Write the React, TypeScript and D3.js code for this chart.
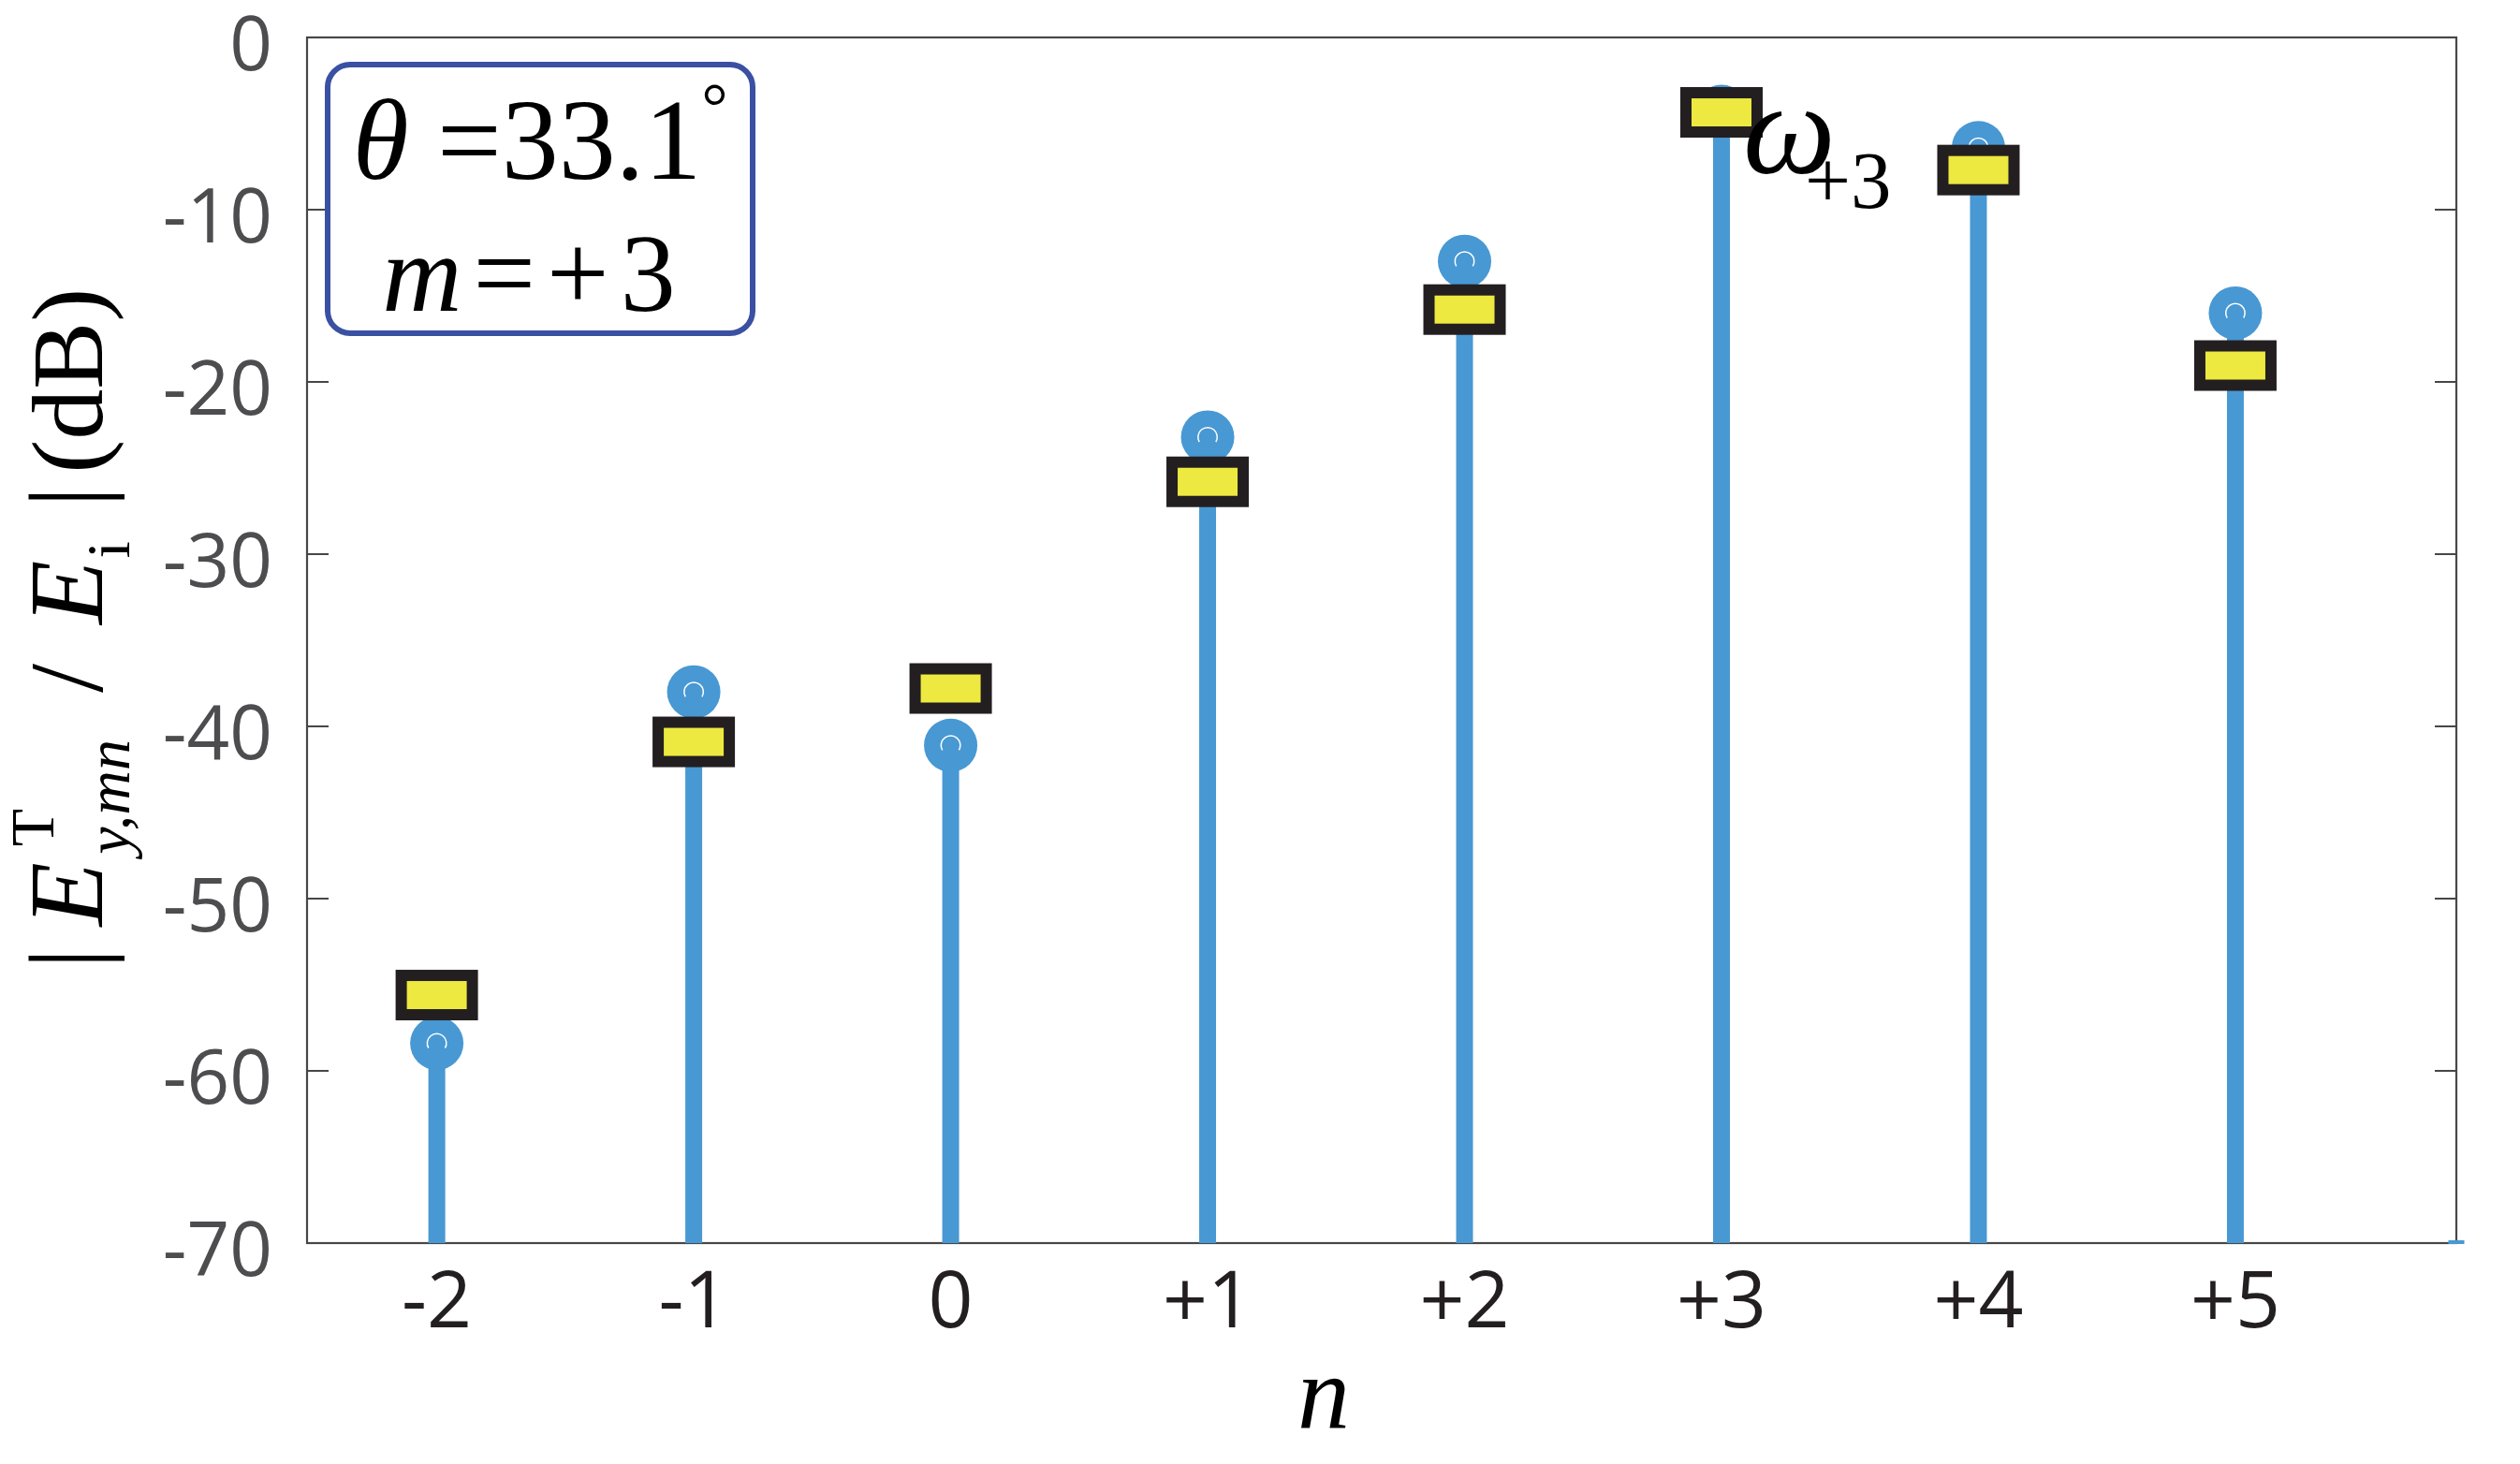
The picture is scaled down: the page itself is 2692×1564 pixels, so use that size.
import React from 'react';
import * as d3 from 'd3';

// Diffraction order n (x categories)
const orderLabels = ['-2', '-1', '0', '+1', '+2', '+3', '+4', '+5'];
const orders = [-2, -1, 0, 1, 2, 3, 4, 5];
// Circle (stem) series, dB
const stemValues = [-58.4, -38.0, -41.1, -23.2, -13.0, -4.3, -6.4, -16.0];
// Square marker series, dB
const squareValues = [-55.6, -40.9, -37.8, -25.8, -15.8, -4.35, -7.7, -19.05];
const yTicks = [0, -10, -20, -30, -40, -50, -60, -70];
const xDomain = [-2.505, 5.86];
const yDomain = [-70, 0];

const W = 2692, H = 1564;
const L = 328, R = 2624, T = 40, B = 1328;

const BLUE = '#4898d3';
const YELLOW = '#ede940';
const DARK = '#231f20';
const SERIF = '"Liberation Serif", "Times New Roman", serif';
const SANS = '"Open Sans", "Noto Sans", sans-serif';

export default function App() {
  const x = d3.scaleLinear().domain(xDomain).range([L, R]);
  const y = d3.scaleLinear().domain(yDomain).range([B, T]);
  const stemW = 18;
  const r = 28.5;
  const rw = 76, rh = 42, rs = 12;
  const arc = d3.arc()({ innerRadius: 9.5, outerRadius: 11, startAngle: -2.1, endAngle: 2.1 } as any) as string;

  return (
    <svg width={W} height={H} style={{ position: 'absolute', left: 0, top: 0, background: '#fff' }}>
      <rect x={0} y={0} width={W} height={H} fill="#fff" />
      {/* axes frame */}
      <rect x={L} y={T} width={R - L} height={B - T} fill="none" stroke="#474747" strokeWidth={2.2} />
      {yTicks.map((t) => (
        <g key={'yt' + t}>
          <line x1={L} x2={L + 23} y1={y(t)} y2={y(t)} stroke="#474747" strokeWidth={2} />
          <line x1={R - 23} x2={R} y1={y(t)} y2={y(t)} stroke="#474747" strokeWidth={2} />
          <text x={L - 37} y={y(t) + 35} textAnchor="end" fontFamily={SANS} fontSize={80} fill="#4d4d4f">
            {String(t)}
          </text>
        </g>
      ))}
      {orders.map((n, i) => (
        <text key={'xl' + n} x={x(n)} y={1418} textAnchor="middle" fontFamily={SANS} fontSize={84} fill={DARK}>
          {orderLabels[i]}
        </text>
      ))}
      {/* stems */}
      {orders.map((n, i) => (
        <line key={'st' + n} x1={x(n)} x2={x(n)} y1={y(yDomain[0])} y2={y(stemValues[i])} stroke={BLUE} strokeWidth={stemW} />
      ))}
      <rect x={x(xDomain[1]) - 8.5} y={y(yDomain[0]) - 3} width={17} height={4} fill={BLUE} />
      {/* circle markers */}
      {orders.map((n, i) => (
        <g key={'c' + n} transform={`translate(${x(n)},${y(stemValues[i])})`}>
          <circle r={r} fill={BLUE} />
          <path d={arc} fill="#fff" />
        </g>
      ))}
      {/* square markers */}
      {orders.map((n, i) => (
        <rect key={'s' + n} x={x(n) - rw / 2} y={y(squareValues[i]) - rh / 2} width={rw} height={rh}
          fill={YELLOW} stroke={DARK} strokeWidth={rs} />
      ))}
      {/* annotation box */}
      <rect x={350} y={69} width={454} height={287} rx={24} fill="#fff" stroke="#3a50a2" strokeWidth={6} />
      <text x={577} y={191} textAnchor="middle" fontFamily={SERIF} fontSize={122} fill="#000">
        <tspan fontStyle="italic">θ</tspan>
        <tspan> =33.1</tspan>
        <tspan fontSize={70} dy={-54}>°</tspan>
      </text>
      <text x={571} y={332} textAnchor="middle" fontFamily={SERIF} fontSize={118} fill="#000" letterSpacing={12}>
        <tspan fontStyle="italic">m</tspan>
        <tspan>=+3</tspan>
      </text>
      {/* omega label */}
      <text x={1862} y={185} fontFamily={SERIF} fontSize={140} fontStyle="italic" fill="#000">ω</text>
      <text x={1928} y={222} fontFamily={SERIF} fontSize={87} fill="#000">+3</text>
      {/* x label */}
      <text x={1414} y={1526} textAnchor="middle" fontFamily={SERIF} fontSize={112} fontStyle="italic" fill="#000">n</text>
      {/* y label */}
      <g transform="translate(109,0) rotate(-90)">
        <text x={-1035} y={0} fontFamily={SERIF} fontSize={112} fill="#000">
          <tspan>|</tspan>
          <tspan dx={23} fontStyle="italic">E</tspan>
          <tspan dx={17} dy={-52} fontSize={66}>T</tspan>
          <tspan dx={-49} dy={81} fontSize={66} fontStyle="italic">y,mn</tspan>
          <tspan dx={50} dy={-29}>/</tspan>
          <tspan dx={42} fontStyle="italic">E</tspan>
          <tspan dx={2} dy={29} fontSize={66}>i</tspan>
          <tspan dx={36} dy={-29}>|</tspan>
          <tspan dx={14} fontSize={108}>(dB)</tspan>
        </text>
      </g>
    </svg>
  );
}
